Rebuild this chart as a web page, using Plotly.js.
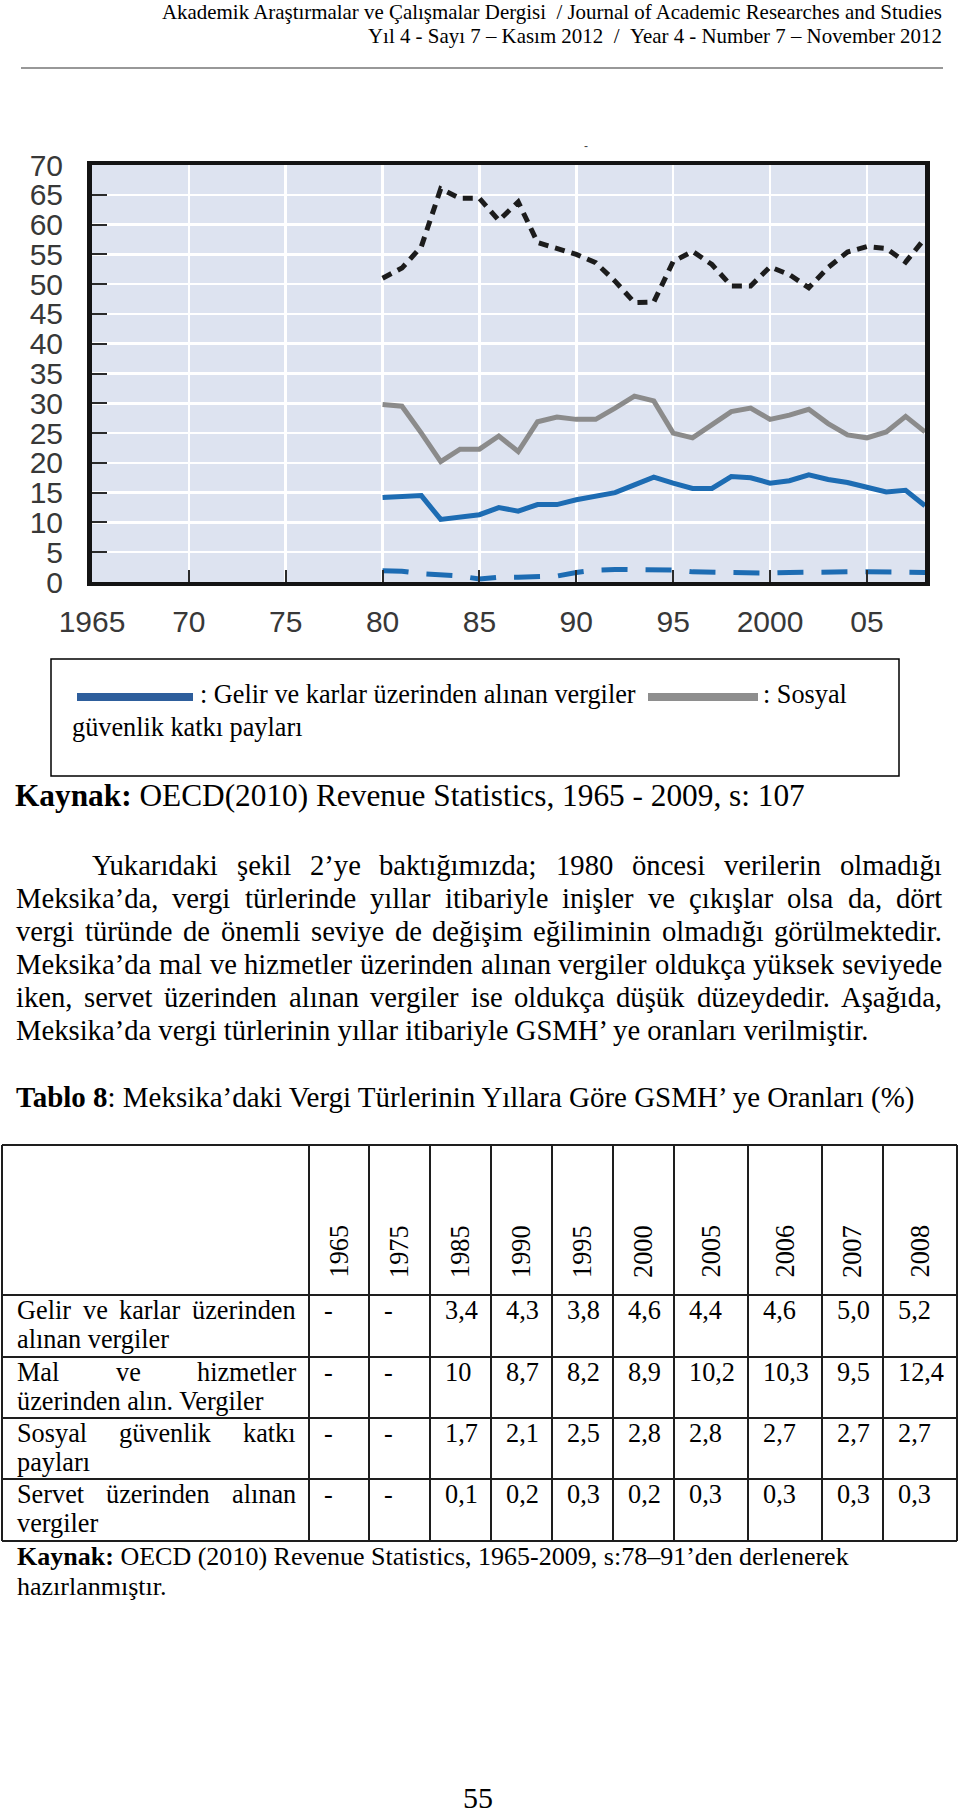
<!DOCTYPE html>
<html>
<head>
<meta charset="utf-8">
<script src="https://cdn.plot.ly/plotly-3.0.1.min.js"></script>
<style>
  html, body { margin: 0; padding: 0; background: #fff; }
  #graph { width: 960px; height: 1814px; }
</style>
</head>
<body>
<div id="graph"></div>
<script>
// Meksika, vergi türlerinin toplam vergi gelirleri içindeki payı (%)
var years = [1980, 1981, 1982, 1983, 1984, 1985, 1986, 1987, 1988, 1989,
             1990, 1991, 1992, 1993, 1994, 1995, 1996, 1997, 1998, 1999,
             2000, 2001, 2002, 2003, 2004, 2005, 2006, 2007, 2008];
var malHizmet = [51.0, 52.7, 56.3, 66.0, 64.4, 64.4, 60.7, 63.8, 57.0, 56.0,
                 55.0, 53.6, 50.5, 46.9, 47.0, 53.8, 55.5, 53.3, 49.7, 49.7,
                 52.9, 51.6, 49.4, 52.8, 55.4, 56.3, 56.0, 53.7, 57.7];
var sosyal = [29.8, 29.5, 25.0, 20.2, 22.3, 22.3, 24.5, 21.9, 26.9, 27.7,
              27.3, 27.3, 29.2, 31.2, 30.4, 25.0, 24.2, 26.3, 28.6, 29.2,
              27.3, 28.0, 29.0, 26.6, 24.7, 24.2, 25.2, 27.8, 25.2];
var gelir = [14.2, 14.3, 14.5, 10.5, 10.8, 11.3, 12.5, 11.9, 13.0, 13.0,
             13.8, 14.4, 15.0, 16.3, 17.6, 16.6, 15.7, 15.7, 17.7, 17.5,
             16.6, 17.0, 18.0, 17.2, 16.7, 15.9, 15.1, 15.4, 12.8];
var servet = [1.9, 1.8, 1.4, 1.3, 1.0, 0.5, 0.8, 0.8, 0.8, 1.0,
              1.6, 2.0, 2.1, 2.1, 2.1, 2.0, 1.7, 1.6, 1.6, 1.6,
              1.5, 1.6, 1.7, 1.7, 1.7, 1.7, 1.7, 1.6, 1.6];

var xTickVals = [1965, 1970, 1975, 1980, 1985, 1990, 1995, 2000, 2005];
var xTickText = ['1965', '70', '75', '80', '85', '90', '95', '2000', '05'];

var headerLines = [
  'Akademik Araştırmalar ve Çalışmalar Dergisi \u00a0/ Journal of Academic Researches and Studies',
  'Yıl 4 - Sayı 7 – Kasım 2012 \u00a0/ \u00a0Year 4 - Number 7 – November 2012'
];
var paraLines = [
  'Yukarıdaki şekil 2’ye baktığımızda; 1980 öncesi verilerin olmadığı',
  'Meksika’da, vergi türlerinde yıllar itibariyle inişler ve çıkışlar olsa da, dört',
  'vergi türünde de önemli seviye de değişim eğiliminin olmadığı görülmektedir.',
  'Meksika’da mal ve hizmetler üzerinden alınan vergiler oldukça yüksek seviyede',
  'iken, servet üzerinden alınan vergiler ise oldukça düşük düzeydedir. Aşağıda,',
  'Meksika’da vergi türlerinin yıllar itibariyle GSMH’ ye oranları verilmiştir.'
];

// Tablo 8
var tableYears = ['1965', '1975', '1985', '1990', '1995', '2000', '2005', '2006', '2007', '2008'];
var rowLabels = [
  ['Gelir ve karlar üzerinden', 'alınan vergiler'],
  ['Mal ve hizmetler', 'üzerinden alın. Vergiler'],
  ['Sosyal güvenlik katkı', 'payları'],
  ['Servet üzerinden alınan', 'vergiler']
];
var tGelir  = ['-', '-', '3,4', '4,3', '3,8', '4,6', '4,4', '4,6', '5,0', '5,2'];
var tMal    = ['-', '-', '10', '8,7', '8,2', '8,9', '10,2', '10,3', '9,5', '12,4'];
var tSosyal = ['-', '-', '1,7', '2,1', '2,5', '2,8', '2,8', '2,7', '2,7', '2,7'];
var tServet = ['-', '-', '0,1', '0,2', '0,3', '0,2', '0,3', '0,3', '0,3', '0,3'];
var tableRows = [tGelir, tMal, tSosyal, tServet];

var W = 960, H = 1814;
var SERIF = '"Liberation Serif", "Times New Roman", serif';
var SANS = '"Liberation Sans", Arial, sans-serif';
var annotations = [];
var shapes = [];

function px(x) { return x / W; }
function py(y) { return 1 - y / H; }

var ctx = document.createElement('canvas').getContext('2d');
function measure(str, size, bold) {
  ctx.font = (bold ? 'bold ' : '') + size + 'px "Liberation Serif"';
  return ctx.measureText(str).width;
}
// parts = [[text, bold], ...]
function partsWidth(parts, size) {
  var w = 0;
  for (var i = 0; i < parts.length; i++) w += measure(parts[i][0], size, parts[i][1]);
  return w;
}
function fitSize(parts, target) {
  return 100 * target / partsWidth(parts, 100);
}
function partsHtml(parts) {
  return parts.map(function (p) { return p[1] ? '<b>' + p[0] + '</b>' : p[0]; }).join('');
}

// text placed by its baseline (pixels from top)
function addText(text, x, base, size, anchor, color, family) {
  annotations.push({
    xref: 'paper', yref: 'paper', x: px(x), y: py(base - 0.34 * size),
    xanchor: anchor || 'left', yanchor: 'middle', text: text, showarrow: false,
    borderpad: 0, font: { family: family || SERIF, size: size, color: color || '#000' }
  });
}

function justify(str, x0, x1, base, size) {
  var words = str.split(' ');
  var widths = [], total = 0;
  for (var i = 0; i < words.length; i++) {
    widths[i] = measure(words[i], size, false);
    total += widths[i];
  }
  var gap = (x1 - x0 - total) / (words.length - 1);
  var x = x0;
  for (var i = 0; i < words.length; i++) {
    addText(words[i], x, base, size, 'left');
    x += widths[i] + gap;
  }
}

function hline(x0, x1, y, w, c) {
  shapes.push({ type: 'line', xref: 'paper', yref: 'paper', x0: px(x0), x1: px(x1),
    y0: py(y), y1: py(y), line: { color: c, width: w } });
}
function vline(x, y0, y1, w, c) {
  shapes.push({ type: 'line', xref: 'paper', yref: 'paper', x0: px(x), x1: px(x),
    y0: py(y0), y1: py(y1), line: { color: c, width: w } });
}

// page header
var hSize = fitSize([[headerLines[0], false]], 783);
addText(headerLines[0], 943, 19, hSize, 'right');
addText(headerLines[1], 943, 43, hSize, 'right');
hline(21, 943, 68, 1.2, '#333');

// small mark above the chart
addText('-', 586, 150, 12, 'center', '#444', SANS);

// legend box
shapes.push({ type: 'rect', xref: 'paper', yref: 'paper', x0: px(51), x1: px(899),
  y0: py(659), y1: py(776), line: { color: '#000', width: 1.5 } });
shapes.push({ type: 'rect', xref: 'paper', yref: 'paper', x0: px(77), x1: px(193),
  y0: py(693), y1: py(701), fillcolor: '#2e5e9c', line: { width: 0 } });
shapes.push({ type: 'rect', xref: 'paper', yref: 'paper', x0: px(648), x1: px(758),
  y0: py(693), y1: py(701), fillcolor: '#8e8e8e', line: { width: 0 } });
var legTxt = ': Gelir ve karlar üzerinden alınan vergiler';
var lSize = fitSize([[legTxt, false]], 436);
addText(legTxt, 199, 703, lSize, 'left');
addText(': Sosyal', 762, 703, lSize, 'left');
addText('güvenlik katkı payları', 71, 736, lSize, 'left');

// source under the chart
var src1 = [['Kaynak:', true], ['\u00a0OECD(2010) Revenue Statistics, 1965 - 2009, s: 107', false]];
addText(partsHtml(src1), 14, 806, fitSize(src1, 790), 'left');

// paragraph
var pSize = fitSize([[paraLines[5], false]], 855);
for (var i = 0; i < paraLines.length; i++) {
  var base = 875 + i * 33;
  if (i === paraLines.length - 1) addText(paraLines[i], 15, base, pSize, 'left');
  else justify(paraLines[i], i === 0 ? 91 : 15, 941, base, pSize);
}

// table title
var tTitle = [['Tablo 8', true], [': Meksika’daki Vergi Türlerinin Yıllara Göre GSMH’ ye Oranları (%)', false]];
addText(partsHtml(tTitle), 15, 1107, fitSize(tTitle, 903), 'left');

// table grid
var colEdges = [2, 309, 369, 430, 491, 552, 613, 674, 748, 822, 883, 957];
var rowEdges = [1145, 1295, 1357, 1418, 1479, 1541];
for (var i = 0; i < colEdges.length; i++) vline(colEdges[i], 1145, 1541, 2, '#1e1e1e');
for (var i = 0; i < rowEdges.length; i++) hline(2, 957, rowEdges[i], 2, '#1e1e1e');

var tSize = fitSize([[rowLabels[1][1], false]], 247);
for (var j = 0; j < tableYears.length; j++) {
  annotations.push({
    xref: 'paper', yref: 'paper', x: px((colEdges[j + 1] + colEdges[j + 2]) / 2), y: py(1279),
    xanchor: 'center', yanchor: 'bottom', textangle: -90, text: tableYears[j], showarrow: false,
    borderpad: 0, font: { family: SERIF, size: tSize, color: '#000' }
  });
}
for (var r = 0; r < tableRows.length; r++) {
  var rowTop = rowEdges[r + 1];
  justify(rowLabels[r][0], 16, 295, rowTop + 24, tSize);
  addText(rowLabels[r][1], 16, rowTop + 53, tSize, 'left');
  for (var j = 0; j < tableRows[r].length; j++) {
    addText(tableRows[r][j], colEdges[j + 1] + 14, rowTop + 24, tSize, 'left');
  }
}

// source under the table
var src2 = [['Kaynak:', true], ['\u00a0OECD (2010) Revenue Statistics, 1965-2009, s:78–91’den derlenerek', false]];
var s2Size = fitSize(src2, 832);
addText(partsHtml(src2), 16, 1565, s2Size, 'left');
addText('hazırlanmıştır.', 16, 1595, s2Size, 'left');

// page number
addText('55', 478, 1808, 30, 'center');

var traces = [
  { x: years, y: malHizmet, mode: 'lines', hoverinfo: 'none',
    line: { color: '#1c1c1c', width: 5, dash: '10px,7px' } },
  { x: years, y: sosyal, mode: 'lines', hoverinfo: 'none',
    line: { color: '#8b8b8b', width: 5 } },
  { x: years, y: gelir, mode: 'lines', hoverinfo: 'none',
    line: { color: '#1d6cb3', width: 5 } },
  { x: years, y: servet, mode: 'lines', hoverinfo: 'none',
    line: { color: '#1d6cb3', width: 5, dash: '26px,18px' } }
];

var layout = {
  width: W, height: H,
  margin: { l: 0, r: 0, t: 0, b: 0 },
  paper_bgcolor: '#ffffff',
  plot_bgcolor: '#dde3f0',
  showlegend: false,
  xaxis: {
    domain: [px(92), px(925)], range: [1965, 2008],
    tickvals: xTickVals, ticktext: xTickText,
    ticks: 'inside', ticklen: 12, tickwidth: 2, tickcolor: '#2b2b2b',
    showgrid: true, gridcolor: '#ffffff', gridwidth: 2.5, zeroline: false,
    showline: true, linecolor: '#141414', linewidth: 4, mirror: true,
    tickfont: { family: SANS, size: 30, color: '#383838' },
    ticklabelstandoff: 10, fixedrange: true
  },
  yaxis: {
    domain: [py(582), py(165)], range: [0, 70], tick0: 0, dtick: 5,
    ticks: 'inside', ticklen: 15, tickwidth: 2, tickcolor: '#2b2b2b',
    showgrid: true, gridcolor: '#ffffff', gridwidth: 2.5, zeroline: false,
    showline: true, linecolor: '#141414', linewidth: 5, mirror: true,
    tickfont: { family: SANS, size: 30, color: '#383838' },
    ticklabelstandoff: 18, fixedrange: true
  },
  annotations: annotations,
  shapes: shapes
};

Plotly.newPlot('graph', traces, layout, { staticPlot: true, displayModeBar: false });
</script>
</body>
</html>
